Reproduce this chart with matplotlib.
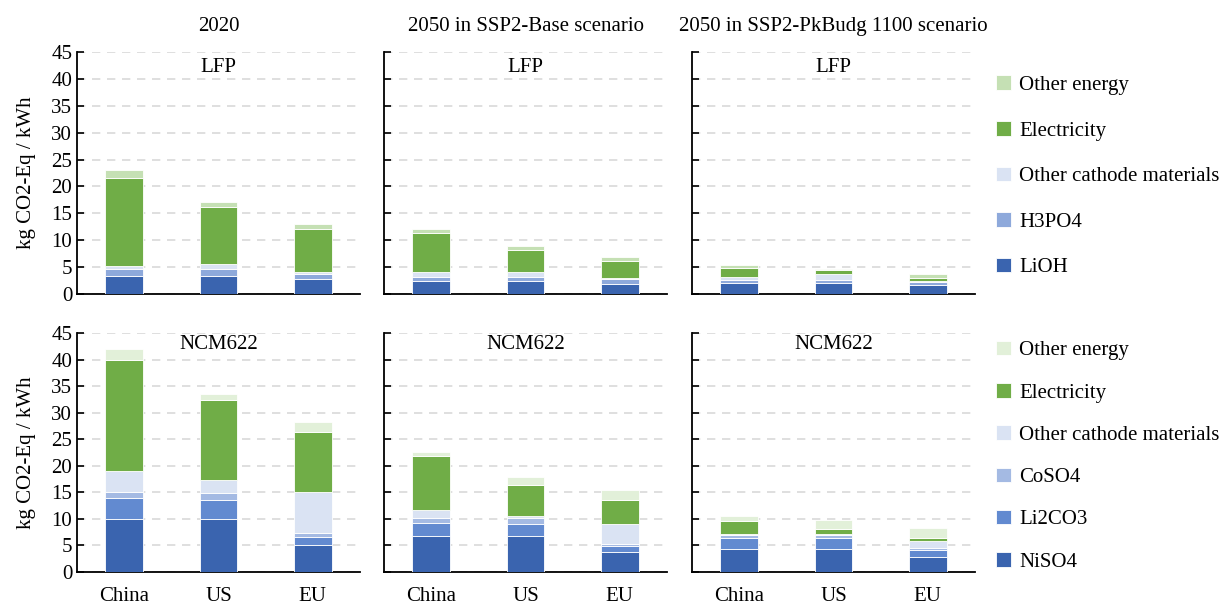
import matplotlib.pyplot as plt
import numpy as np

plt.rcParams['font.family'] = ['Liberation Serif', 'DejaVu Serif']
plt.rcParams['font.size'] = 15

regions = ['China', 'US', 'EU']
scenarios = ['2020', '2050 in SSP2-Base scenario', '2050 in SSP2-PkBudg 1100 scenario']

# LFP contributions, kg CO2-Eq / kWh, one list per scenario (China, US, EU)
lfp_labels = ['LiOH', 'H3PO4', 'Other cathode materials', 'Electricity', 'Other energy']
lfp_lioh = [[3.4, 3.4, 2.75], [2.5, 2.5, 1.95], [2.1, 2.1, 1.7]]
lfp_h3po4 = [[1.2, 1.2, 0.95], [0.75, 0.75, 0.75], [0.5, 0.5, 0.6]]
lfp_other_cat = [[0.6, 1.0, 0.4], [0.75, 0.75, 0.2], [0.6, 1.1, 0.15]]
lfp_elec = [[16.3, 10.6, 8.0], [7.4, 4.2, 3.2], [1.6, 0.8, 0.6]]
lfp_other_en = [[1.6, 1.0, 1.0], [0.7, 0.75, 0.75], [0.5, 0.15, 0.6]]

# NCM622 contributions
ncm_labels = ['NiSO4', 'Li2CO3', 'CoSO4', 'Other cathode materials', 'Electricity', 'Other energy']
ncm_niso4 = [[10.0, 10.0, 5.0], [6.7, 6.7, 3.7], [4.4, 4.4, 2.9]]
ncm_li2co3 = [[3.85, 3.5, 1.65], [2.6, 2.4, 1.2], [2.0, 2.0, 1.25]]
ncm_coso4 = [[1.25, 1.3, 0.75], [0.87, 1.0, 0.4], [0.5, 0.5, 0.37]]
ncm_other_cat = [[3.9, 2.5, 7.6], [1.5, 0.4, 3.8], [0.25, 0.25, 1.25]]
ncm_elec = [[21.0, 15.1, 11.3], [10.1, 5.8, 4.45], [2.5, 0.95, 0.6]]
ncm_other_en = [[2.0, 1.1, 2.0], [0.9, 1.65, 1.9], [0.8, 1.75, 2.0]]

lfp_series = [lfp_lioh, lfp_h3po4, lfp_other_cat, lfp_elec, lfp_other_en]
ncm_series = [ncm_niso4, ncm_li2co3, ncm_coso4, ncm_other_cat, ncm_elec, ncm_other_en]

lfp_colors = ['#3A64AF', '#8EA9DB', '#DAE3F3', '#70AD47', '#C5E0B4']
ncm_colors = ['#3A64AF', '#628AD0', '#A4BAE3', '#DAE3F3', '#70AD47', '#E2F0D9']

fig = plt.figure(figsize=(12.21, 6.07), dpi=100)
W, H = 1221, 607
col_x = [(77, 360), (384, 667), (692, 975)]
row_y = [(52, 294), (333, 572)]  # pixel rows of y=45 and y=0

x = np.arange(len(regions))
for r, (series, colors, labels, chem) in enumerate([
        (lfp_series, lfp_colors, lfp_labels, 'LFP'),
        (ncm_series, ncm_colors, ncm_labels, 'NCM622')]):
    for c in range(3):
        x0, x1 = col_x[c]
        y0, y1 = row_y[r]
        ax = fig.add_axes([x0 / W, 1 - y1 / H, (x1 - x0) / W, (y1 - y0) / H])
        bottom = np.zeros(len(regions))
        handles = []
        for s, col, lab in zip(series, colors, labels):
            vals = np.array(s[c])
            b = ax.bar(x, vals, 0.4, bottom=bottom, color=col, edgecolor='white',
                       linewidth=0.6, label=lab, zorder=3)
            handles.append(b)
            bottom += vals
        ax.set_xlim(-0.5, 2.5)
        ax.set_ylim(0, 45)
        ax.set_yticks(np.arange(0, 46, 5))
        ax.yaxis.grid(True, linestyle=(0, (5, 4)), color='#D9D9D9', linewidth=1.2, zorder=0)
        ax.set_axisbelow(True)
        for sp in ['top', 'right']:
            ax.spines[sp].set_visible(False)
        ax.spines['left'].set_linewidth(1.3)
        ax.spines['bottom'].set_linewidth(1.3)
        ax.tick_params(axis='y', direction='in', length=5, width=1.2)
        ax.tick_params(axis='x', length=0, pad=11)
        ax.set_xticks(x)
        if r == 1:
            ax.set_xticklabels(regions)
        else:
            ax.set_xticklabels([])
        if c != 0:
            ax.set_yticklabels([])
        else:
            ax.set_ylabel('kg CO2-Eq / kWh', labelpad=11)
        if r == 0:
            ax.set_title(scenarios[c], fontsize=15, pad=15)
        ax.text(0.5, 0.935 if r == 0 else 0.95, chem, transform=ax.transAxes,
                ha='center', va='center', fontsize=15)
        if c == 2:
            ax.legend(handles[::-1], labels[::-1], loc='upper left',
                      bbox_to_anchor=(1.03, 0.955 if r == 0 else 1.02),
                      frameon=False, handlelength=0.7, handleheight=0.7,
                      handletextpad=0.4, labelspacing=1.25 if r == 0 else 1.09,
                      borderaxespad=0.2)

fig.savefig('out.png', dpi=100)
